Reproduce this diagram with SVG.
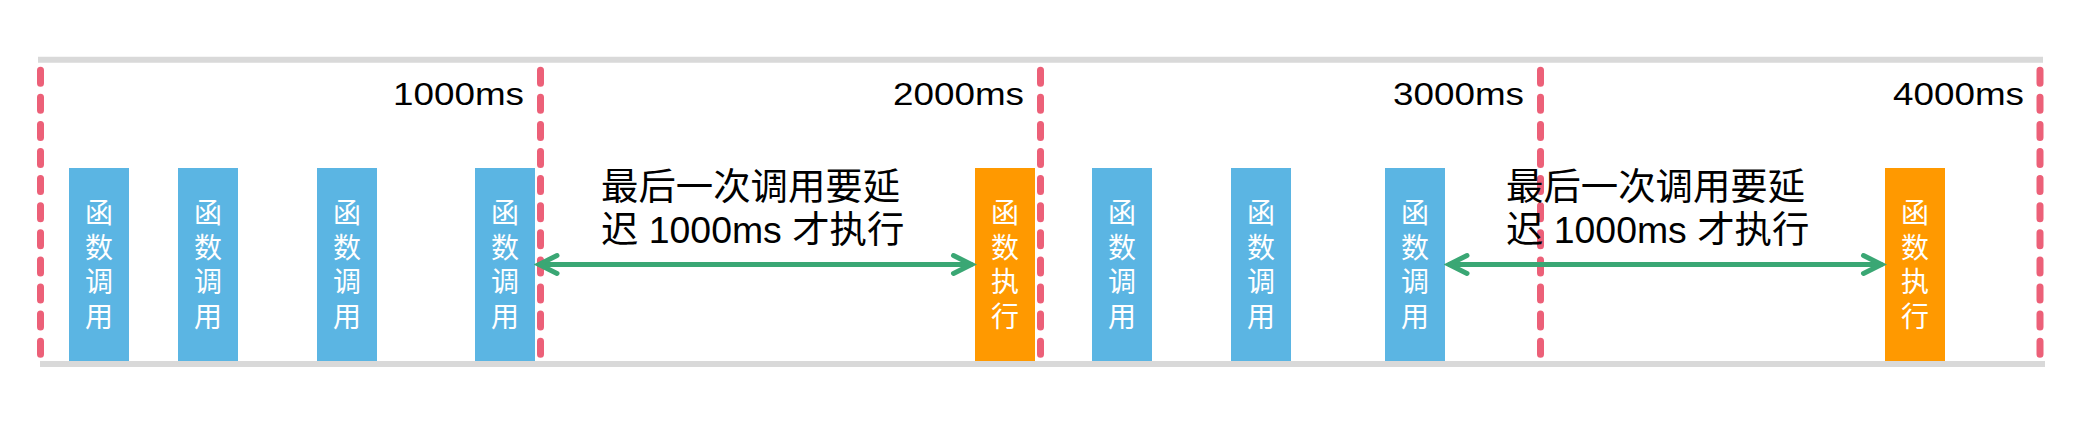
<svg xmlns="http://www.w3.org/2000/svg" width="2083" height="426" viewBox="0 0 2083 426">
<defs>
<style>
.rail{stroke:#D9D9D9;stroke-width:6;fill:none}
.tick{stroke:#EC6078;stroke-width:7;stroke-linecap:round;stroke-dasharray:13 14.1;fill:none}
.call{fill:#5BB5E3}
.exec{fill:#FF9900}
.bt{font-family:"Noto Sans CJK SC","Noto Sans",sans-serif;font-size:28px;fill:#FFFFFF;text-anchor:middle;writing-mode:vertical-rl;letter-spacing:6.5px}
.tl{font-family:"Liberation Sans",Arial,sans-serif;font-size:32px;fill:#000000;text-anchor:end}
.lb{font-family:"Liberation Sans","Noto Sans CJK SC",sans-serif;font-size:37.4px;fill:#000000}
.arr{stroke:#3AA774;stroke-width:5;fill:none}
</style>
<marker id="ah" markerUnits="userSpaceOnUse" markerWidth="30" markerHeight="30" viewBox="-25 -15 30 30" refX="1" refY="0" orient="auto-start-reverse">
<path d="M -18 -9 L 0 0 L -18 9" fill="none" stroke="#3AA774" stroke-width="5" stroke-linecap="round" stroke-linejoin="miter"/>
</marker>
</defs>
<rect width="2083" height="426" fill="#FFFFFF"/>
<g id="rails">
<line class="rail" x1="38" y1="59.7" x2="2043" y2="59.7"/>
<line class="rail" x1="40" y1="364" x2="2045" y2="364"/>
</g>
<g id="ticks">
<line class="tick" x1="40.5" y1="70.2" x2="40.5" y2="354.2"/>
<line class="tick" x1="540.5" y1="70.2" x2="540.5" y2="354.2"/>
<line class="tick" x1="1040.5" y1="70.2" x2="1040.5" y2="354.2"/>
<line class="tick" x1="1540.5" y1="70.2" x2="1540.5" y2="354.2"/>
<line class="tick" x1="2040" y1="70.2" x2="2040" y2="354.2"/>
</g>
<g id="time-labels">
<text class="tl" x="524" y="105" textLength="131" lengthAdjust="spacingAndGlyphs">1000ms</text>
<text class="tl" x="1024" y="105" textLength="131" lengthAdjust="spacingAndGlyphs">2000ms</text>
<text class="tl" x="1524" y="105" textLength="131" lengthAdjust="spacingAndGlyphs">3000ms</text>
<text class="tl" x="2024" y="105" textLength="131" lengthAdjust="spacingAndGlyphs">4000ms</text>
</g>
<g id="call1"><rect class="call" x="69" y="168" width="60" height="193"/><text class="bt" x="99" y="267.5">函数调用</text></g>
<g id="call2"><rect class="call" x="178" y="168" width="60" height="193"/><text class="bt" x="208" y="267.5">函数调用</text></g>
<g id="call3"><rect class="call" x="317" y="168" width="60" height="193"/><text class="bt" x="347" y="267.5">函数调用</text></g>
<g id="call4"><rect class="call" x="475" y="168" width="60" height="193"/><text class="bt" x="505" y="267.5">函数调用</text></g>
<g id="exec1"><rect class="exec" x="975" y="168" width="60" height="193"/><text class="bt" x="1005" y="267.5">函数执行</text></g>
<g id="call5"><rect class="call" x="1092" y="168" width="60" height="193"/><text class="bt" x="1122" y="267.5">函数调用</text></g>
<g id="call6"><rect class="call" x="1231" y="168" width="60" height="193"/><text class="bt" x="1261" y="267.5">函数调用</text></g>
<g id="call7"><rect class="call" x="1385" y="168" width="60" height="193"/><text class="bt" x="1415" y="267.5">函数调用</text></g>
<g id="exec2"><rect class="exec" x="1885" y="168" width="60" height="193"/><text class="bt" x="1915" y="267.5">函数执行</text></g>
<g id="connectors">
<line class="arr" x1="538" y1="264.5" x2="972.5" y2="264.5" marker-start="url(#ah)" marker-end="url(#ah)"/>
<line class="arr" x1="1448" y1="264.5" x2="1882.5" y2="264.5" marker-start="url(#ah)" marker-end="url(#ah)"/>
</g>
<g id="delay-labels">
<text class="lb"><tspan x="601" y="200">最后一次调用要延</tspan><tspan x="601" y="243">迟 1000ms 才执行</tspan></text>
<text class="lb"><tspan x="1506" y="200">最后一次调用要延</tspan><tspan x="1506" y="243">迟 1000ms 才执行</tspan></text>
</g>
</svg>
